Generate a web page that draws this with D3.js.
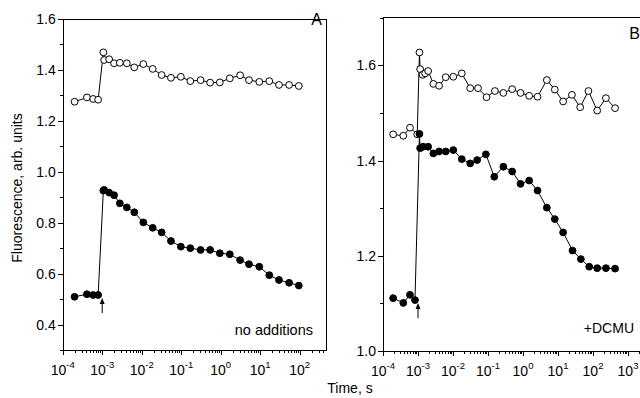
<!DOCTYPE html>
<html>
<head>
<meta charset="utf-8">
<script src="https://cdn.jsdelivr.net/npm/d3@7.9.0/dist/d3.min.js"></script>
<style>
  body { margin: 0; background: #fff; }
  svg { display: block; font-family: "Liberation Sans", Arial, sans-serif; }
  .axis path, .axis line { stroke: #000; stroke-width: 1; shape-rendering: crispEdges; }
  .axis text { font-size: 14px; fill: #000; }
</style>
</head>
<body>
<svg width="640" height="398"></svg>
<script>
// Panel A - no additions
const timeA = [2.0e-4, 4.1e-4, 5.9e-4, 7.9e-4,
  1.07e-3, 1.12e-3, 1.5e-3, 2.0e-3, 2.8e-3, 4.2e-3, 6.5e-3, 0.011, 0.019, 0.032,
  0.055, 0.098, 0.17, 0.31, 0.54, 0.95, 1.7, 3.1, 5.2, 9.5, 17, 30, 54, 95];
const openA = [1.275, 1.292, 1.286, 1.283,
  1.469, 1.439, 1.442, 1.426, 1.428, 1.426, 1.410, 1.423, 1.404, 1.380,
  1.369, 1.373, 1.356, 1.360, 1.350, 1.351, 1.367, 1.379, 1.360, 1.353, 1.356, 1.341, 1.341, 1.337];
const filledA = [0.509, 0.519, 0.516, 0.516,
  0.926, 0.929, 0.918, 0.908, 0.876, 0.860, 0.841, 0.801, 0.780, 0.762,
  0.728, 0.706, 0.700, 0.693, 0.693, 0.680, 0.676, 0.653, 0.637, 0.627, 0.594, 0.575, 0.564, 0.553];

// Panel B - +DCMU
const timeBOpen = [1.95e-4, 3.8e-4, 5.9e-4, 9.5e-4,
  1.1e-3, 1.15e-3, 1.35e-3, 1.6e-3, 1.95e-3, 2.75e-3, 4.0e-3, 6.2e-3, 0.0102, 0.0178,
  0.031, 0.052, 0.091, 0.158, 0.275, 0.49, 0.85, 1.5, 2.6, 4.8, 8.1, 14, 25, 43, 74, 132, 234, 427];
const openB = [1.455, 1.452, 1.469, 1.455,
  1.627, 1.592, 1.580, 1.583, 1.588, 1.561, 1.557, 1.575, 1.576, 1.583,
  1.552, 1.552, 1.533, 1.546, 1.542, 1.550, 1.542, 1.536, 1.534, 1.569, 1.549, 1.524,
  1.538, 1.512, 1.546, 1.505, 1.531, 1.510];
const timeBFilled = [1.95e-4, 3.8e-4, 5.9e-4, 8.2e-4,
  1.1e-3, 1.15e-3, 1.4e-3, 1.95e-3, 2.75e-3, 4.0e-3, 6.2e-3, 0.0102, 0.0178, 0.031,
  0.049, 0.087, 0.151, 0.275, 0.49, 0.85, 1.5, 2.6, 4.8, 8.1, 14, 26, 45, 78, 132, 234, 427];
const filledB = [1.111, 1.101, 1.118, 1.107,
  1.456, 1.426, 1.429, 1.429, 1.415, 1.419, 1.419, 1.422, 1.403, 1.394,
  1.401, 1.413, 1.366, 1.387, 1.377, 1.351, 1.358, 1.337, 1.301, 1.277, 1.249, 1.211,
  1.193, 1.177, 1.174, 1.174, 1.173];

const flashTime = 1e-3;
const decadesA = [-4, -3, -2, -1, 0, 1, 2];
const decadesB = [-4, -3, -2, -1, 0, 1, 2, 3];

const svg = d3.select('svg');

function drawPanel(opt) {
    const x = d3.scaleLog().domain(opt.xDomain).range([opt.left, opt.right]);
    const y = d3.scaleLinear().domain(opt.yDomain).range([opt.bottom, opt.top]);
    const g = svg.append('g');

    // frame (top + right)
    g.append('path')
        .attr('d', `M${opt.left},${opt.top}H${opt.right}V${opt.bottom}`)
        .attr('fill', 'none').attr('stroke', '#000').attr('shape-rendering', 'crispEdges');

    // y axis
    g.append('g').attr('class', 'axis')
        .attr('transform', `translate(${opt.left},0)`)
        .call(d3.axisLeft(y).tickValues(opt.yMajor).tickSize(5).tickSizeOuter(0)
            .tickPadding(2).tickFormat(d3.format('.1f')));
    g.append('g').attr('class', 'axis')
        .attr('transform', `translate(${opt.left},0)`)
        .call(d3.axisLeft(y).tickValues(opt.yMinor).tickSize(3).tickSizeOuter(0).tickFormat(''))
        .select('.domain').remove();

    // x axis, major + minor
    const majors = opt.decades.map(e => Math.pow(10, e));
    let minors = [];
    opt.decades.forEach(e => {
        for (let k = 2; k <= 9; k++) {
            const v = k * Math.pow(10, e);
            if (v <= opt.xDomain[1]) minors.push(v);
        }
    });
    g.append('g').attr('class', 'axis')
        .attr('transform', `translate(0,${opt.bottom})`)
        .call(d3.axisBottom(x).tickValues(majors).tickSize(5).tickSizeOuter(0).tickFormat(''));
    g.append('g').attr('class', 'axis')
        .attr('transform', `translate(0,${opt.bottom})`)
        .call(d3.axisBottom(x).tickValues(minors).tickSize(3).tickSizeOuter(0).tickFormat(''))
        .select('.domain').remove();

    // power-of-ten labels
    opt.decades.forEach(e => {
        const t = g.append('text')
            .attr('x', x(Math.pow(10, e)))
            .attr('y', opt.bottom + 25)
            .attr('text-anchor', 'middle')
            .attr('font-size', 14);
        t.append('tspan').text('10');
        t.append('tspan').attr('dy', -7).attr('font-size', 9.5).text(e);
    });

    // series
    const line = d3.line().x(d => x(d[0])).y(d => y(d[1]));
    opt.series.forEach(s => {
        const pts = s.t.map((t, i) => [t, s.v[i]]);
        g.append('path').datum(pts).attr('d', line)
            .attr('fill', 'none').attr('stroke', '#000').attr('stroke-width', 1);
        g.selectAll(null).data(pts).enter().append('circle')
            .attr('cx', d => x(d[0])).attr('cy', d => y(d[1])).attr('r', 3.4)
            .attr('fill', s.fill).attr('stroke', '#000').attr('stroke-width', 1);
    });

    // flash arrow
    const ax = x(flashTime);
    const ay0 = y(opt.arrow[0]), ay1 = y(opt.arrow[1]);
    g.append('line').attr('x1', ax).attr('x2', ax).attr('y1', ay0).attr('y2', ay1 + 3)
        .attr('stroke', '#000').attr('stroke-width', 1);
    g.append('path').attr('d', `M${ax},${ay1}l-2.5,6h5z`).attr('fill', '#000');

    // panel letter and note
    g.append('text').attr('x', opt.letterPos[0]).attr('y', opt.letterPos[1])
        .attr('text-anchor', 'end').attr('font-size', 16).text(opt.letter);
    g.append('text').attr('x', opt.notePos[0]).attr('y', opt.notePos[1])
        .attr('text-anchor', 'end').attr('font-size', opt.noteSize).text(opt.note);
}

drawPanel({
    left: 62.7, right: 326.7, top: 19, bottom: 350,
    xDomain: [1e-4, Math.pow(10, 2.684)], yDomain: [0.3, 1.6],
    yMajor: [0.4, 0.6, 0.8, 1.0, 1.2, 1.4, 1.6],
    yMinor: [0.3, 0.5, 0.7, 0.9, 1.1, 1.3, 1.5],
    decades: decadesA,
    series: [{ t: timeA, v: openA, fill: '#fff' }, { t: timeA, v: filledA, fill: '#000' }],
    arrow: [0.445, 0.504],
    letter: 'A', letterPos: [322, 25],
    note: 'no additions', notePos: [313, 335], noteSize: 14.5
});

drawPanel({
    left: 383, right: 645.5, top: 17.7, bottom: 351,
    xDomain: [1e-4, Math.pow(10, 3.5)], yDomain: [1.0, 1.7],
    yMajor: [1.0, 1.2, 1.4, 1.6],
    yMinor: [1.1, 1.3, 1.5, 1.7],
    decades: decadesB,
    series: [{ t: timeBOpen, v: openB, fill: '#fff' }, { t: timeBFilled, v: filledB, fill: '#000' }],
    arrow: [1.069, 1.101],
    letter: 'B', letterPos: [640, 39],
    note: '+DCMU', notePos: [634, 333], noteSize: 14
});

// axis titles
svg.append('text')
    .attr('transform', 'translate(22,188) rotate(-90)')
    .attr('text-anchor', 'middle').attr('font-size', 14)
    .text('Fluorescence, arb. units');
svg.append('text')
    .attr('x', 350).attr('y', 393)
    .attr('text-anchor', 'middle').attr('font-size', 14)
    .text('Time, s');
</script>
</body>
</html>
